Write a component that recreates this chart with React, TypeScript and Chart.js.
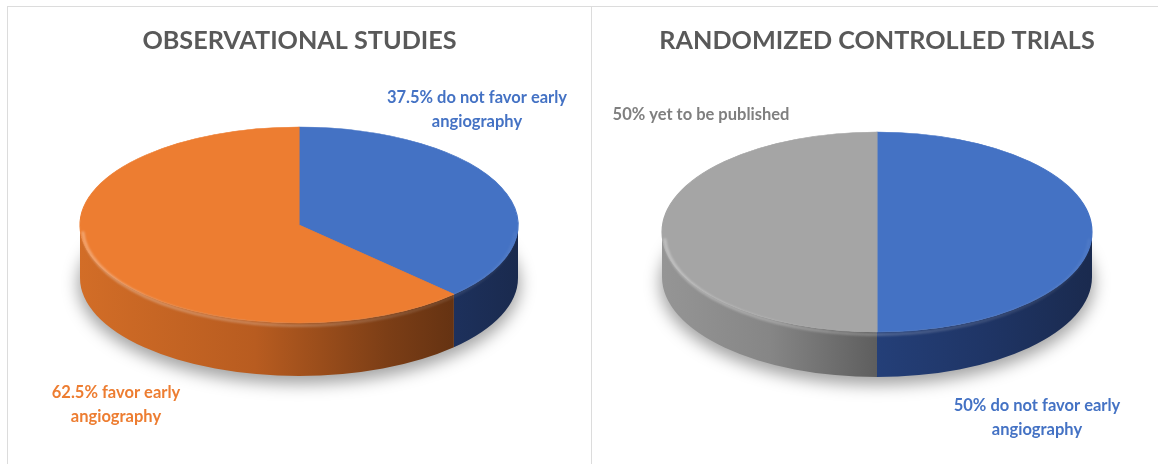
import React, { useEffect, useRef } from 'react';
import { Chart, registerables } from 'chart.js';

Chart.register(...registerables);

// ---------- data ----------
const obsTitle = 'OBSERVATIONAL STUDIES';
const obsCategories = ['Do not favor early angiography', 'Favor early angiography'];
const obsValues = [37.5, 62.5];
const obsLabelText = [
  ['37.5% do not favor early', 'angiography'],
  ['62.5% favor early', 'angiography'],
];

const rctTitle = 'RANDOMIZED CONTROLLED TRIALS';
const rctCategories = ['Do not favor early angiography', 'Yet to be published'];
const rctValues = [50, 50];
const rctLabelText = [
  ['50% do not favor early', 'angiography'],
  ['50% yet to be published'],
];

// ---------- styles ----------
const BLUE = '#4472C4';
const ORANGE = '#ED7D31';
const GRAY = '#A5A5A5';
const LABEL_GRAY = '#7F7F7F';

const BLUE_SIDE: [number, string][] = [[0, '#3560AE'], [0.5, '#243F78'], [0.75, '#1F3566'], [1, '#1A2A4E']];
const ORANGE_SIDE: [number, string][] = [[0, '#D26D27'], [0.4, '#B85C20'], [0.7, '#7C3E16'], [0.9, '#5E2F11'], [1, '#5A2C10']];
const GRAY_SIDE: [number, string][] = [[0, '#959595'], [0.25, '#868686'], [0.5, '#5E5E5E'], [1, '#4A4A4A']];

const visibleRanges = (s: number, e: number) => {
  const out: [number, number][] = [];
  for (let k = -2; k <= 2; k++) {
    const base = 2 * Math.PI * k;
    const lo = Math.max(s, base);
    const hi = Math.min(e, base + Math.PI);
    if (hi > lo + 1e-6) out.push([lo - base, hi - base]);
  }
  return out;
};

const pie3d = {
  id: 'pie3d',
  beforeDatasetsDraw(chart: any, _args: any, opts: any) {
    const ctx: CanvasRenderingContext2D = chart.ctx;
    const arcs = chart.getDatasetMeta(0).data;
    if (!arcs.length) return false;
    const { x: ax, y: ay, outerRadius: R } = arcs[0].getProps(['x', 'y', 'outerRadius'], true);
    const { cx, cy, rx, ry, depth } = opts;

    // soft shadow
    ctx.save();
    ctx.filter = 'blur(8px)';
    ctx.fillStyle = 'rgba(0,0,0,0.36)';
    ctx.beginPath();
    ctx.ellipse(cx, cy + depth + 6, rx + 2, ry + 2, 0, 0, Math.PI * 2);
    ctx.fill();
    ctx.restore();

    // sides
    arcs.forEach((arc: any, i: number) => {
      const { startAngle, endAngle } = arc.getProps(['startAngle', 'endAngle'], true);
      const grad = ctx.createLinearGradient(cx - rx, 0, cx + rx, 0);
      opts.sideStops[i].forEach(([o, c]: [number, string]) => grad.addColorStop(o, c));
      visibleRanges(startAngle, endAngle).forEach(([s, e]) => {
        ctx.beginPath();
        ctx.ellipse(cx, cy, rx, ry, 0, s, e, false);
        ctx.ellipse(cx, cy + depth, rx, ry, 0, e, s, true);
        ctx.closePath();
        ctx.fillStyle = grad;
        ctx.fill();
      });
    });

    // top faces (library arcs, squashed into an ellipse)
    ctx.save();
    ctx.translate(cx, cy);
    ctx.scale(rx / R, ry / R);
    ctx.translate(-ax, -ay);
    arcs.forEach((a: any) => a.draw(ctx));
    ctx.restore();

    // soft bevel highlight along front rim
    ctx.save();
    const hg = ctx.createLinearGradient(cx - rx, 0, cx + rx, 0);
    hg.addColorStop(0, 'rgba(255,255,255,0.32)');
    hg.addColorStop(0.5, 'rgba(255,255,255,0.22)');
    hg.addColorStop(1, 'rgba(255,255,255,0.05)');
    ctx.strokeStyle = hg;
    ctx.lineWidth = 3;
    ctx.filter = 'blur(1px)';
    ctx.beginPath();
    ctx.ellipse(cx, cy + 2.5, rx - 2.5, ry, 0, 0.04, Math.PI - 0.04, false);
    ctx.stroke();
    ctx.restore();
    return false;
  },
  afterDraw(chart: any, _args: any, opts: any) {
    const ctx: CanvasRenderingContext2D = chart.ctx;
    ctx.save();
    ctx.font = 'bold 16.5px Lato';
    ctx.textAlign = 'center';
    ctx.textBaseline = 'middle';
    opts.labels.forEach((lines: string[], i: number) => {
      const p = opts.labelPos[i];
      ctx.fillStyle = opts.labelColors[i];
      lines.forEach((t, j) => ctx.fillText(t, p.x, p.y + j * 24));
    });
    ctx.restore();
  },
};

function makeConfig(p: any) {
  return {
    type: 'pie',
    data: {
      labels: p.categories,
      datasets: [
        {
          data: p.values,
          backgroundColor: p.colors,
          borderColor: p.colors,
          borderWidth: 1,
        },
      ],
    },
    options: {
      responsive: false,
      animation: false,
      events: [],
      layout: { padding: { left: p.padLeft, right: 0, top: 0, bottom: 10 } },
      plugins: {
        legend: { display: false },
        tooltip: { enabled: false },
        title: {
          display: true,
          text: p.title,
          color: '#595959',
          font: { family: 'Lato', size: 25.2, weight: 'bold' },
          padding: { top: 26, bottom: 10 },
        },
        pie3d: p.geo,
      },
    },
    plugins: [pie3d],
  } as any;
}

function PieCanvas({ cfg, left, width }: { cfg: any; left: number; width: number }) {
  const ref = useRef<HTMLCanvasElement>(null);
  useEffect(() => {
    const chart = new Chart(ref.current as HTMLCanvasElement, cfg);
    return () => chart.destroy();
  }, []);
  return (
    <canvas
      ref={ref}
      width={width}
      height={464}
      style={{ position: 'absolute', left, top: 0, width, height: 464 }}
    />
  );
}

export default function App() {
  const leftCfg = makeConfig({
    categories: obsCategories,
    values: obsValues,
    colors: [BLUE, ORANGE],
    title: obsTitle,
    padLeft: 8,
    geo: {
      cx: 299, cy: 225, rx: 219, ry: 98, depth: 53,
      sideStops: [BLUE_SIDE, ORANGE_SIDE],
      labels: obsLabelText,
      labelPos: [{ x: 477, y: 98 }, { x: 116, y: 393 }],
      labelColors: [BLUE, ORANGE],
    },
  });
  const rightCfg = makeConfig({
    categories: rctCategories,
    values: rctValues,
    colors: [BLUE, GRAY],
    title: rctTitle,
    padLeft: 5,
    geo: {
      cx: 286, cy: 232, rx: 215, ry: 100, depth: 45,
      sideStops: [BLUE_SIDE, GRAY_SIDE],
      labels: rctLabelText,
      labelPos: [{ x: 446, y: 406 }, { x: 110, y: 115 }],
      labelColors: [BLUE, LABEL_GRAY],
    },
  });
  return (
    <div style={{ position: 'absolute', left: 0, top: 0, width: 1158, height: 464, background: '#fff', overflow: 'hidden' }}>
      <div style={{ position: 'absolute', left: 7, top: 6, right: 0, height: 0, borderTop: '1px solid #DCDCDC' }} />
      <div style={{ position: 'absolute', left: 7, top: 6, bottom: 0, width: 0, borderLeft: '1px solid #DCDCDC' }} />
      <div style={{ position: 'absolute', left: 591, top: 6, bottom: 0, width: 0, borderLeft: '1px solid #DCDCDC' }} />
      <PieCanvas cfg={leftCfg} left={0} width={591} />
      <PieCanvas cfg={rightCfg} left={591} width={567} />
    </div>
  );
}
